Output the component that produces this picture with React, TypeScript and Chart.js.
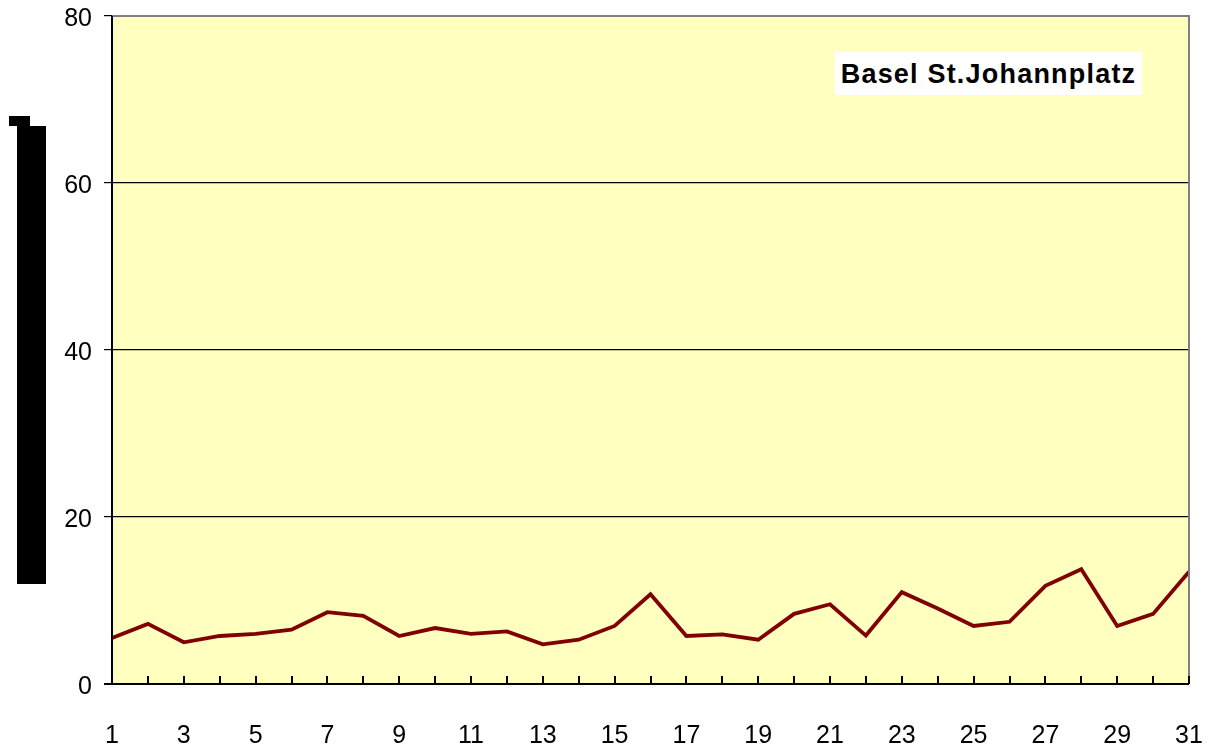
import React, { useEffect, useRef } from "react";
import { Chart, registerables } from "chart.js";

Chart.register(...registerables);

const days: string[] = [
  "1", "2", "3", "4", "5", "6", "7", "8", "9", "10",
  "11", "12", "13", "14", "15", "16", "17", "18", "19", "20",
  "21", "22", "23", "24", "25", "26", "27", "28", "29", "30", "31",
];
const values: number[] = [
  5.5, 7.2, 5.0, 5.75, 6.0, 6.5, 8.6, 8.15, 5.75, 6.7,
  6.0, 6.3, 4.75, 5.3, 6.95, 10.75, 5.75, 5.95, 5.3, 8.4,
  9.55, 5.8, 11.0, 9.05, 6.95, 7.45, 11.75, 13.75, 6.95, 8.4, 13.45,
];
const yTicks: number[] = [0, 20, 40, 60, 80];
const stationTitle = "Basel St.Johannplatz";

const FONT = "Arial, 'Liberation Sans', sans-serif";

const plotDecor = {
  id: "plotDecor",
  beforeDraw(chart: any) {
    const { ctx, chartArea } = chart;
    ctx.save();
    ctx.fillStyle = "#FFFFC0";
    ctx.fillRect(chartArea.left, chartArea.top, chartArea.right - chartArea.left, chartArea.bottom - chartArea.top);
    ctx.restore();
  },
  afterDatasetsDraw(chart: any) {
    const { ctx, chartArea } = chart;
    const xs = chart.scales.x;
    ctx.save();
    ctx.strokeStyle = "#808080";
    ctx.lineWidth = 2;
    ctx.beginPath();
    ctx.moveTo(chartArea.left, chartArea.top);
    ctx.lineTo(chartArea.right, chartArea.top);
    ctx.lineTo(chartArea.right, chartArea.bottom);
    ctx.stroke();
    ctx.strokeStyle = "#000";
    ctx.lineWidth = 2;
    ctx.beginPath();
    ctx.moveTo(chartArea.left, chartArea.top);
    ctx.lineTo(chartArea.left, chartArea.bottom);
    ctx.stroke();
    ctx.beginPath();
    ctx.moveTo(chartArea.left - 8, chartArea.bottom);
    ctx.lineTo(chartArea.right, chartArea.bottom);
    ctx.stroke();
    for (let i = 0; i < days.length; i++) {
      const x = Math.round(xs.getPixelForValue(i));
      ctx.beginPath();
      ctx.moveTo(x, chartArea.bottom);
      ctx.lineTo(x, chartArea.bottom - 8);
      ctx.stroke();
    }
    ctx.restore();
  },
};

const noPad = (s: any) => {
  s.paddingTop = 0;
  s.paddingBottom = 0;
  s.paddingLeft = 0;
  s.paddingRight = 0;
};

export default function App() {
  const canvasRef = useRef<HTMLCanvasElement | null>(null);

  useEffect(() => {
    if (!canvasRef.current) return;
    const chart = new Chart(canvasRef.current, {
      type: "line",
      data: {
        labels: days,
        datasets: [
          {
            data: values,
            borderColor: "#800000",
            borderWidth: 3.8,
            pointRadius: 0,
            tension: 0,
            fill: false,
          },
        ],
      },
      options: {
        responsive: false,
        animation: false,
        layout: { padding: { top: 16, right: 21, left: 0, bottom: 0 } },
        plugins: { legend: { display: false }, tooltip: { enabled: false }, title: { display: false } },
        scales: {
          x: {
            type: "category",
            offset: false,
            grid: { display: false, drawTicks: false },
            border: { display: false },
            ticks: {
              autoSkip: false,
              maxRotation: 0,
              padding: 37,
              color: "#000",
              font: { family: FONT, size: 25 },
              callback: (_v: any, i: number) => (i % 2 === 0 ? days[i] : ""),
            },
            afterFit: (s: any) => { s.height = 65; noPad(s); },
          },
          y: {
            min: 0,
            max: 80,
            afterBuildTicks: (s: any) => { s.ticks = yTicks.map((v) => ({ value: v })); },
            grid: {
              color: (c: any) => (c.tick && (c.tick.value === 0 || c.tick.value === 80) ? "rgba(0,0,0,0)" : "#000"),
              tickColor: "#000",
              lineWidth: 1.2,
              tickLength: 8,
            },
            border: { display: false },
            ticks: {
              padding: 12,
              labelOffset: 3,
              color: "#000",
              font: { family: FONT, size: 25 },
            },
            afterFit: (s: any) => { s.width = 112; noPad(s); },
          },
        },
      },
      plugins: [plotDecor],
    });
    return () => chart.destroy();
  }, []);

  return (
    <div style={{ position: "absolute", left: 0, top: 0, width: 1210, height: 749, background: "#fff", overflow: "hidden" }}>
      <canvas ref={canvasRef} width={1210} height={749} style={{ position: "absolute", left: 0, top: 0 }} />
      <div style={{ position: "absolute", left: 17, top: 126, width: 29, height: 458, background: "#000" }} />
      <div style={{ position: "absolute", left: 9, top: 116, width: 21, height: 10, background: "#000" }} />
      <div
        style={{
          position: "absolute",
          left: 835,
          top: 52,
          width: 307,
          height: 43,
          background: "#fff",
          fontFamily: FONT,
          fontWeight: "bold",
          fontSize: 27,
          letterSpacing: "1.2px",
          lineHeight: "44px",
          textAlign: "center",
          color: "#000",
          whiteSpace: "nowrap",
        }}
      >
        {stationTitle}
      </div>
    </div>
  );
}
